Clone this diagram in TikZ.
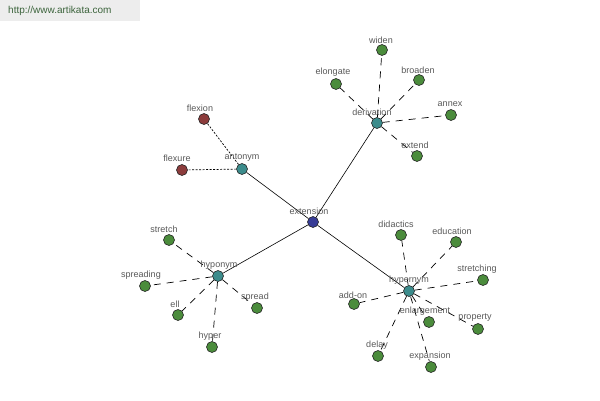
\documentclass[tikz,border=0pt]{standalone}
\usepackage{fontspec}
\setmainfont{Liberation Sans}
\definecolor{corec}{RGB}{55,60,150}
\definecolor{hubc}{RGB}{60,140,140}
\definecolor{leafc}{RGB}{75,140,60}
\definecolor{redc}{RGB}{140,60,60}
\definecolor{wmc}{RGB}{60,100,60}
\begin{document}
\begin{tikzpicture}[x=1pt,y=-1pt,
  dot/.style={circle,draw=black!85,line width=0.6pt,minimum size=11pt,inner sep=0pt},
  core/.style={dot,fill=corec},
  hub/.style={dot,fill=hubc},
  leaf/.style={dot,fill=leafc},
  red/.style={dot,fill=redc},
  lab/.style={font=\fontsize{9}{10}\selectfont,text=black!65,inner sep=0pt},
  solidln/.style={draw=black,line width=0.6pt},
  dashln/.style={draw=black,line width=0.7pt,dash pattern=on 7pt off 6pt},
  dotln/.style={draw=black,line width=0.7pt,dash pattern=on 2pt off 1.5pt}]
\useasboundingbox (0,0) rectangle (600,400);
\fill[white] (0,0) rectangle (600,400);
\fill[black!7] (0,0) rectangle (140,21);
\node[font=\fontsize{10}{11}\selectfont,text=wmc,anchor=west,inner sep=0pt] (wm) at (8,11) {http://www.artikata.com};

% nodes
\node[core] (ext) at (313,222) {};
\node[hub] (ant) at (242,169) {};
\node[hub] (der) at (377,123) {};
\node[hub] (hpo) at (218,276) {};
\node[hub] (hpe) at (409,291) {};
\node[red] (flexion) at (204,119) {};
\node[red] (flexure) at (182,170) {};
\node[leaf] (widen) at (382,50) {};
\node[leaf] (elongate) at (336,84) {};
\node[leaf] (broaden) at (419,80) {};
\node[leaf] (annex) at (451,115) {};
\node[leaf] (extend) at (417,156) {};
\node[leaf] (stretch) at (169,240) {};
\node[leaf] (spreading) at (145,286) {};
\node[leaf] (ell) at (178,315) {};
\node[leaf] (spread) at (257,308) {};
\node[leaf] (hyper) at (212,347) {};
\node[leaf] (didactics) at (401,235) {};
\node[leaf] (education) at (456,242) {};
\node[leaf] (stretching) at (483,280) {};
\node[leaf] (addon) at (354,304) {};
\node[leaf] (enlargement) at (429,322) {};
\node[leaf] (property) at (478,329) {};
\node[leaf] (delay) at (378,356) {};
\node[leaf] (expansion) at (431,367) {};

% connectors
\draw[solidln] (ext) -- (ant);
\draw[solidln] (ext) -- (der);
\draw[solidln] (ext) -- (hpo);
\draw[solidln] (ext) -- (hpe);
\draw[dotln] (ant) -- (flexion);
\draw[dotln] (ant) -- (flexure);
\foreach \n in {widen,elongate,broaden,annex,extend} \draw[dashln] (der) -- (\n);
\foreach \n in {stretch,spreading,ell,spread,hyper} \draw[dashln] (hpo) -- (\n);
\foreach \n in {didactics,education,stretching,addon,enlargement,property,delay,expansion} \draw[dashln] (hpe) -- (\n);

% labels
\node[lab] (l1) at (309,211) {extension};
\node[lab] (l2) at (242,158) {antonym};
\node[lab] (l3) at (200,108) {flexion};
\node[lab] (l4) at (177,158) {flexure};
\node[lab] (l5) at (372,112) {derivation};
\node[lab] (l6) at (381,40) {widen};
\node[lab] (l7) at (333,72) {elongate};
\node[lab] (l8) at (418,70) {broaden};
\node[lab] (l9) at (450,104) {annex};
\node[lab] (l10) at (415,145) {extend};
\node[lab] (l11) at (219,265) {hyponym};
\node[lab] (l12) at (164,229) {stretch};
\node[lab] (l13) at (141,275) {spreading};
\node[lab] (l14) at (175,304) {ell};
\node[lab] (l15) at (255,297) {spread};
\node[lab] (l16) at (210,336) {hyper};
\node[lab] (l17) at (409,280) {hypernym};
\node[lab] (l18) at (396,224) {didactics};
\node[lab] (l19) at (452,231) {education};
\node[lab] (l20) at (477,269) {stretching};
\node[lab] (l21) at (353,295) {add-on};
\node[lab] (l22) at (425,311) {enlargement};
\node[lab] (l23) at (475,318) {property};
\node[lab] (l24) at (377,345) {delay};
\node[lab] (l25) at (430,356) {expansion};
\end{tikzpicture}
\end{document}
